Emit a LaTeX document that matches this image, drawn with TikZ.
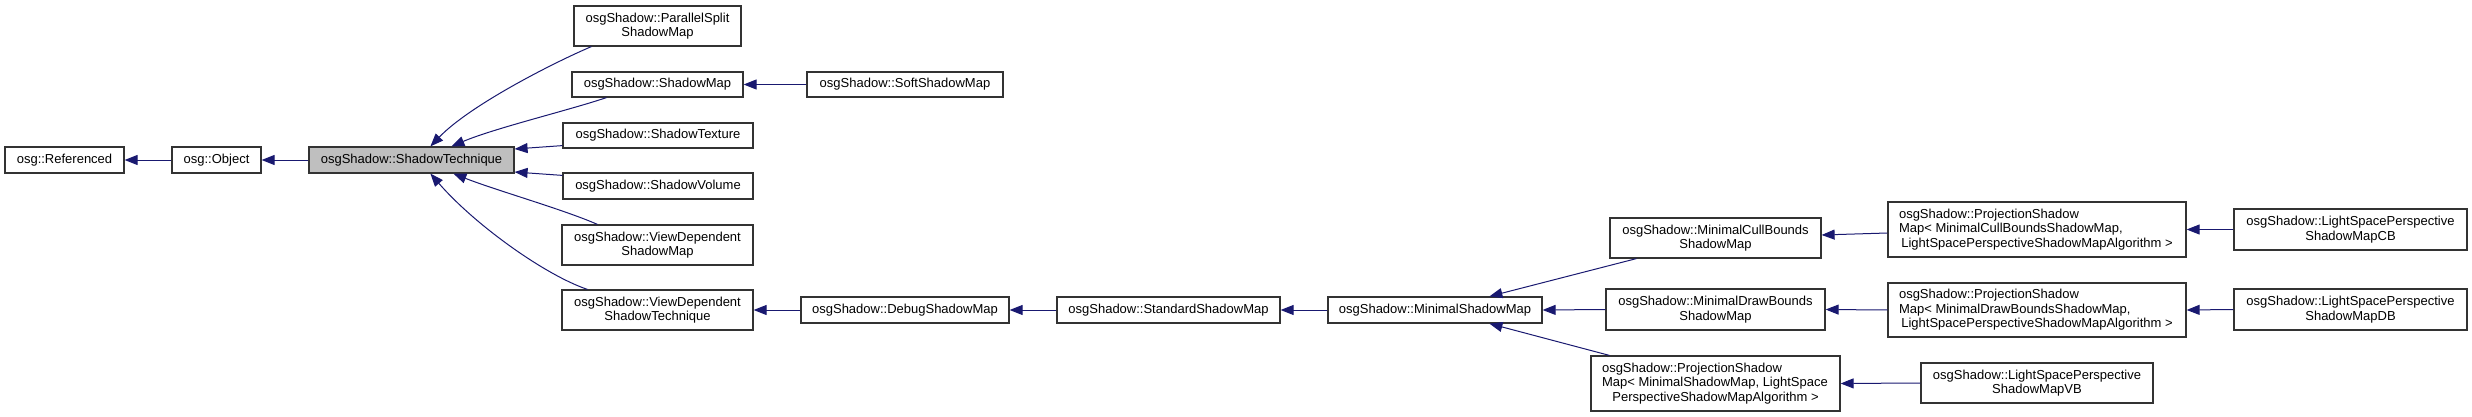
\documentclass[tikz,border=0pt]{standalone}
\usepackage{fontspec}
\setmainfont{Liberation Sans}
\usetikzlibrary{arrows.meta,calc}
\definecolor{edgeblue}{HTML}{191970}
\definecolor{techgray}{HTML}{BFBFBF}
\begin{document}
\begin{tikzpicture}[x=1pt,y=-1pt,
  box/.style={draw=black!80, line width=1.2pt, fill=white, inner sep=0pt, align=center,
    font=\fontsize{13}{14.5}\selectfont},
  inh/.style={draw=edgeblue, line width=1pt, -{Triangle[length=13pt,width=10pt]}},
  wh/.style={minimum width=#1},
  ht/.style={minimum height=#1}]
\useasboundingbox (0,0) rectangle (2472,417);
% column 1-3
\node[box, wh=119pt, ht=26pt] (ref) at (64.5,160) {osg::Referenced};
\node[box, wh=89pt, ht=26pt] (obj) at (216.5,160) {osg::Object};
\node[box, wh=205pt, ht=26pt, fill=techgray] (tech) at (411.5,160) {osgShadow::ShadowTechnique};
% column 4
\node[box, wh=167pt, ht=40pt] (psm) at (657.5,26) {osgShadow::ParallelSplit\\ShadowMap};
\node[box, wh=171pt, ht=25pt] (sm) at (657.5,84.5) {osgShadow::ShadowMap};
\node[box, wh=190pt, ht=25pt] (stex) at (658,135.5) {osgShadow::ShadowTexture};
\node[box, wh=190pt, ht=26pt] (svol) at (658,186) {osgShadow::ShadowVolume};
\node[box, wh=191pt, ht=40pt] (vdsm) at (657.5,245) {osgShadow::ViewDependent\\ShadowMap};
\node[box, wh=191pt, ht=40pt] (vdst) at (657.5,310) {osgShadow::ViewDependent\\ShadowTechnique};
% column 5
\node[box, wh=196pt, ht=25pt] (soft) at (905,84.5) {osgShadow::SoftShadowMap};
\node[box, wh=208pt, ht=26pt] (dbg) at (905,310) {osgShadow::DebugShadowMap};
% column 6-7
\node[box, wh=223pt, ht=26pt] (std) at (1168.5,310) {osgShadow::StandardShadowMap};
\node[box, wh=214pt, ht=26pt] (min) at (1435,310) {osgShadow::MinimalShadowMap};
% column 8
\node[box, wh=211pt, ht=40pt] (mcb) at (1715.5,238) {osgShadow::MinimalCullBounds\\ShadowMap};
\node[box, wh=219pt, ht=41pt] (mdb) at (1715.5,309.5) {osgShadow::MinimalDrawBounds\\ShadowMap};
\node[box, wh=249pt, ht=55pt, text width=227pt, align=none] (psmsm) at (1715.5,383.5)
  {\raggedright osgShadow::ProjectionShadow\\Map< MinimalShadowMap, LightSpace\par
   \centering PerspectiveShadowMapAlgorithm >\par};
% column 9
\node[box, wh=298pt, ht=55pt, text width=276pt, align=none] (pscb) at (2037,229.5)
  {\raggedright osgShadow::ProjectionShadow\\Map< MinimalCullBoundsShadowMap,\par
   \centering LightSpacePerspectiveShadowMapAlgorithm >\par};
\node[box, wh=298pt, ht=54pt, text width=276pt, align=none] (psdb) at (2037,310)
  {\raggedright osgShadow::ProjectionShadow\\Map< MinimalDrawBoundsShadowMap,\par
   \centering LightSpacePerspectiveShadowMapAlgorithm >\par};
\node[box, wh=232pt, ht=40pt] (lvb) at (2037,383) {osgShadow::LightSpacePerspective\\ShadowMapVB};
% column 10
\node[box, wh=233pt, ht=41pt] (lcb) at (2350.5,229.5) {osgShadow::LightSpacePerspective\\ShadowMapCB};
\node[box, wh=233pt, ht=41pt] (ldb) at (2350.5,309.5) {osgShadow::LightSpacePerspective\\ShadowMapDB};
% edges
\draw[inh] (obj.west) -- (ref.east);
\draw[inh] (tech.west) -- (obj.east);
\draw[inh] ($(psm.south west)+(18,0)$) .. controls (555,62) and (470,105) .. ($(tech.north west)+(122,0)$);
\draw[inh] ($(sm.south west)+(35,0)$) .. controls (570,110) and (495,128) .. ($(tech.north west)+(143,0)$);
\draw[inh] ($(stex.south west)+(0,-3)$) -- ($(tech.east)+(0,-11)$);
\draw[inh] ($(svol.north west)+(0,3)$) -- ($(tech.east)+(0,12)$);
\draw[inh] ($(vdsm.north west)+(36,0)$) .. controls (565,210) and (495,190) .. ($(tech.south west)+(145,0)$);
\draw[inh] ($(vdst.north west)+(26,0)$) .. controls (545,275) and (475,225) .. ($(tech.south west)+(122,0)$);
\draw[inh] (soft.west) -- (sm.east);
\draw[inh] (dbg.west) -- (vdst.east);
\draw[inh] (std.west) -- (dbg.east);
\draw[inh] (min.west) -- (std.east);
\draw[inh] ($(mcb.south west)+(27,0)$) -- ($(min.north west)+(162,0)$);
\draw[inh] (mdb.west) -- (min.east);
\draw[inh] ($(psmsm.north west)+(19,0)$) -- ($(min.south west)+(162,0)$);
\draw[inh] ($(pscb.west)+(0,3.5)$) -- ($(mcb.east)+(0,-3)$);
\draw[inh] (psdb.west) -- (mdb.east);
\draw[inh] (lvb.west) -- (psmsm.east);
\draw[inh] (lcb.west) -- (pscb.east);
\draw[inh] (ldb.west) -- (psdb.east);
\end{tikzpicture}
\end{document}
